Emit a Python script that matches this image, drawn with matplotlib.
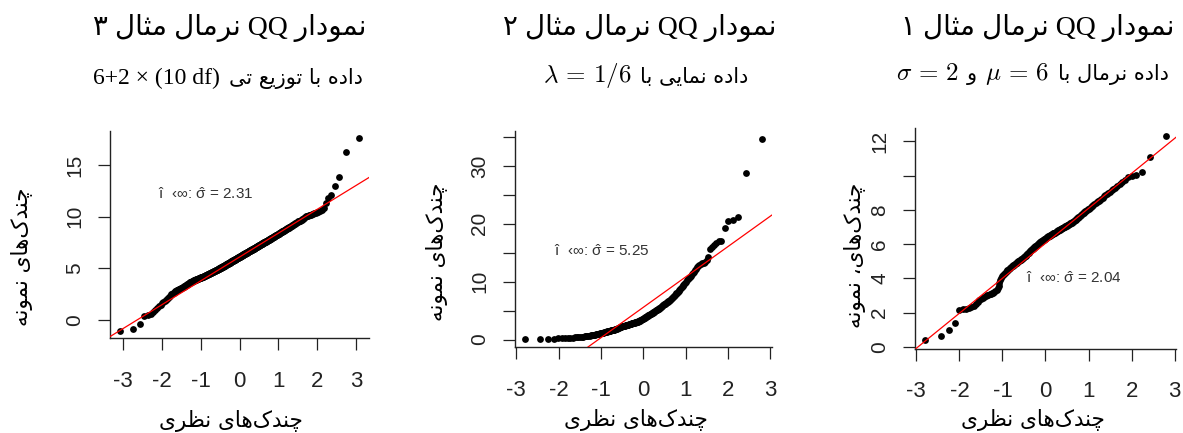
import statistics
import matplotlib
matplotlib.use('Agg')
import matplotlib.pyplot as plt
from matplotlib.offsetbox import TextArea, HPacker, AnnotationBbox

# sorted samples, one value per point (normal, exponential, t)
sample_norm = [
    0.39, 0.64, 0.99, 1.42, 2.15, 2.20, 2.24, 2.30, 2.36, 2.42,
    2.50, 2.62, 2.75, 2.82, 2.88, 2.93, 2.98, 3.02, 3.06, 3.09,
    3.10, 3.13, 3.17, 3.22, 3.28, 3.35, 3.45, 3.58, 3.72, 3.90,
    4.05, 4.15, 4.22, 4.28, 4.34, 4.39, 4.44, 4.48, 4.52, 4.56,
    4.60, 4.63, 4.67, 4.70, 4.73, 4.77, 4.80, 4.83, 4.87, 4.90,
    4.93, 4.96, 4.99, 5.01, 5.04, 5.07, 5.09, 5.12, 5.15, 5.17,
    5.20, 5.23, 5.27, 5.30, 5.33, 5.37, 5.40, 5.43, 5.47, 5.50,
    5.55, 5.58, 5.61, 5.64, 5.67, 5.70, 5.73, 5.77, 5.80, 5.83,
    5.86, 5.89, 5.91, 5.94, 5.97, 5.99, 6.02, 6.05, 6.07, 6.10,
    6.13, 6.15, 6.17, 6.20, 6.22, 6.24, 6.26, 6.29, 6.31, 6.33,
    6.35, 6.37, 6.39, 6.41, 6.43, 6.45, 6.47, 6.49, 6.51, 6.53,
    6.55, 6.57, 6.59, 6.61, 6.63, 6.64, 6.66, 6.68, 6.70, 6.72,
    6.74, 6.76, 6.78, 6.80, 6.82, 6.84, 6.87, 6.89, 6.91, 6.93,
    6.95, 6.97, 6.99, 7.01, 7.03, 7.04, 7.06, 7.08, 7.10, 7.12,
    7.14, 7.16, 7.19, 7.21, 7.24, 7.26, 7.28, 7.31, 7.33, 7.36,
    7.40, 7.43, 7.47, 7.50, 7.54, 7.58, 7.61, 7.65, 7.68, 7.72,
    7.76, 7.80, 7.84, 7.88, 7.92, 7.95, 7.99, 8.03, 8.07, 8.11,
    8.15, 8.20, 8.25, 8.30, 8.35, 8.40, 8.45, 8.50, 8.54, 8.59,
    8.65, 8.72, 8.79, 8.86, 8.93, 9.00, 9.07, 9.14, 9.21, 9.28,
    9.38, 9.50, 9.60, 9.75, 9.90, 9.97, 10.05, 10.20, 11.10, 12.30,
]

sample_exp = [
    0.04, 0.10, 0.13, 0.16, 0.19, 0.22, 0.25, 0.28, 0.30, 0.33,
    0.36, 0.39, 0.41, 0.44, 0.47, 0.50, 0.53, 0.56, 0.60, 0.63,
    0.66, 0.70, 0.73, 0.76, 0.80, 0.84, 0.88, 0.92, 0.96, 1.00,
    1.04, 1.08, 1.12, 1.16, 1.20, 1.24, 1.28, 1.32, 1.36, 1.40,
    1.43, 1.46, 1.50, 1.54, 1.57, 1.60, 1.63, 1.66, 1.69, 1.72,
    1.76, 1.80, 1.85, 1.90, 1.95, 2.00, 2.05, 2.10, 2.15, 2.20,
    2.23, 2.26, 2.29, 2.32, 2.35, 2.38, 2.41, 2.44, 2.47, 2.50,
    2.53, 2.56, 2.59, 2.62, 2.65, 2.68, 2.71, 2.74, 2.77, 2.80,
    2.83, 2.86, 2.89, 2.92, 2.95, 2.98, 3.01, 3.04, 3.07, 3.10,
    3.14, 3.18, 3.23, 3.28, 3.33, 3.38, 3.43, 3.48, 3.54, 3.60,
    3.65, 3.70, 3.76, 3.82, 3.88, 3.94, 4.00, 4.06, 4.12, 4.18,
    4.24, 4.30, 4.36, 4.42, 4.48, 4.54, 4.60, 4.66, 4.72, 4.78,
    4.84, 4.90, 4.96, 5.02, 5.08, 5.14, 5.21, 5.28, 5.35, 5.42,
    5.50, 5.58, 5.66, 5.74, 5.82, 5.90, 5.98, 6.06, 6.14, 6.22,
    6.30, 6.38, 6.46, 6.55, 6.64, 6.73, 6.82, 6.91, 7.00, 7.10,
    7.20, 7.32, 7.44, 7.56, 7.70, 7.84, 7.98, 8.12, 8.26, 8.40,
    8.55, 8.70, 8.85, 9.00, 9.20, 9.40, 9.60, 9.80, 10.00, 10.20,
    10.40, 10.60, 10.80, 11.00, 11.25, 11.50, 11.75, 12.00, 12.25, 12.50,
    12.70, 12.85, 13.00, 13.15, 13.30, 13.45, 13.70, 14.20, 15.70, 16.00,
    16.40, 16.70, 17.00, 17.10, 19.20, 20.40, 20.60, 21.10, 28.70, 34.70,
]

sample_t = [
    -1.05, -0.90, -0.40, 0.35, 0.45, 0.55, 0.75, 0.95, 1.12, 1.30,
    1.45, 1.58, 1.70, 1.82, 1.94, 2.05, 2.15, 2.25, 2.35, 2.45,
    2.52, 2.58, 2.64, 2.70, 2.75, 2.80, 2.84, 2.88, 2.92, 2.96,
    2.99, 3.02, 3.06, 3.09, 3.12, 3.16, 3.19, 3.22, 3.26, 3.29,
    3.32, 3.35, 3.38, 3.41, 3.44, 3.47, 3.50, 3.53, 3.56, 3.59,
    3.62, 3.64, 3.66, 3.68, 3.70, 3.72, 3.74, 3.76, 3.78, 3.80,
    3.82, 3.83, 3.85, 3.86, 3.88, 3.89, 3.91, 3.92, 3.94, 3.95,
    3.97, 3.98, 4.00, 4.01, 4.02, 4.04, 4.05, 4.06, 4.07, 4.08,
    4.10, 4.11, 4.12, 4.14, 4.15, 4.17, 4.18, 4.19, 4.21, 4.22,
    4.23, 4.25, 4.26, 4.27, 4.29, 4.30, 4.31, 4.33, 4.34, 4.35,
    4.36, 4.38, 4.39, 4.40, 4.42, 4.43, 4.44, 4.46, 4.47, 4.48,
    4.49, 4.50, 4.52, 4.53, 4.54, 4.55, 4.57, 4.58, 4.59, 4.60,
    4.61, 4.62, 4.64, 4.65, 4.66, 4.67, 4.69, 4.70, 4.71, 4.72,
    4.73, 4.74, 4.76, 4.77, 4.78, 4.79, 4.81, 4.82, 4.83, 4.84,
    4.85, 4.86, 4.87, 4.88, 4.89, 4.91, 4.92, 4.93, 4.94, 4.95,
    4.96, 4.97, 4.99, 5.00, 5.01, 5.02, 5.04, 5.05, 5.06, 5.07,
    5.08, 5.09, 5.11, 5.12, 5.13, 5.14, 5.16, 5.17, 5.18, 5.19,
    5.20, 5.21, 5.23, 5.24, 5.25, 5.26, 5.28, 5.29, 5.30, 5.31,
    5.32, 5.33, 5.35, 5.36, 5.37, 5.38, 5.40, 5.41, 5.42, 5.43,
    5.44, 5.45, 5.46, 5.47, 5.48, 5.50, 5.51, 5.52, 5.53, 5.54,
    5.55, 5.56, 5.58, 5.59, 5.60, 5.61, 5.63, 5.64, 5.65, 5.66,
    5.67, 5.68, 5.69, 5.70, 5.71, 5.73, 5.74, 5.75, 5.76, 5.77,
    5.78, 5.79, 5.80, 5.81, 5.82, 5.84, 5.85, 5.86, 5.87, 5.88,
    5.89, 5.90, 5.91, 5.92, 5.93, 5.95, 5.96, 5.97, 5.98, 5.99,
    6.00, 6.01, 6.02, 6.03, 6.04, 6.06, 6.07, 6.08, 6.09, 6.10,
    6.11, 6.12, 6.13, 6.14, 6.15, 6.17, 6.18, 6.19, 6.20, 6.21,
    6.22, 6.23, 6.24, 6.25, 6.26, 6.28, 6.29, 6.30, 6.31, 6.32,
    6.33, 6.34, 6.35, 6.36, 6.37, 6.39, 6.40, 6.41, 6.42, 6.43,
    6.44, 6.45, 6.46, 6.47, 6.48, 6.50, 6.51, 6.52, 6.53, 6.54,
    6.55, 6.56, 6.57, 6.58, 6.59, 6.61, 6.62, 6.63, 6.64, 6.65,
    6.66, 6.67, 6.69, 6.70, 6.71, 6.72, 6.74, 6.75, 6.76, 6.77,
    6.78, 6.79, 6.80, 6.81, 6.82, 6.84, 6.85, 6.86, 6.87, 6.88,
    6.89, 6.90, 6.92, 6.93, 6.94, 6.95, 6.97, 6.98, 6.99, 7.00,
    7.01, 7.02, 7.04, 7.05, 7.06, 7.07, 7.09, 7.10, 7.11, 7.12,
    7.13, 7.15, 7.16, 7.17, 7.19, 7.20, 7.21, 7.23, 7.24, 7.25,
    7.26, 7.28, 7.29, 7.30, 7.32, 7.33, 7.34, 7.36, 7.37, 7.38,
    7.39, 7.41, 7.42, 7.43, 7.45, 7.46, 7.47, 7.49, 7.50, 7.51,
    7.52, 7.54, 7.55, 7.57, 7.58, 7.59, 7.61, 7.62, 7.64, 7.65,
    7.66, 7.68, 7.69, 7.71, 7.72, 7.74, 7.75, 7.77, 7.78, 7.80,
    7.81, 7.83, 7.84, 7.86, 7.87, 7.89, 7.90, 7.92, 7.93, 7.95,
    7.96, 7.98, 8.00, 8.01, 8.03, 8.05, 8.07, 8.08, 8.10, 8.12,
    8.13, 8.15, 8.17, 8.19, 8.21, 8.22, 8.24, 8.26, 8.28, 8.30,
    8.31, 8.33, 8.35, 8.37, 8.39, 8.41, 8.43, 8.46, 8.48, 8.50,
    8.51, 8.53, 8.56, 8.58, 8.60, 8.62, 8.65, 8.67, 8.70, 8.72,
    8.73, 8.76, 8.78, 8.80, 8.83, 8.85, 8.88, 8.90, 8.93, 8.95,
    8.96, 8.99, 9.02, 9.05, 9.09, 9.12, 9.15, 9.18, 9.22, 9.25,
    9.26, 9.30, 9.34, 9.38, 9.42, 9.45, 9.49, 9.53, 9.56, 9.60,
    9.61, 9.66, 9.71, 9.76, 9.81, 9.86, 9.91, 9.96, 10.01, 10.05,
    10.07, 10.11, 10.15, 10.19, 10.23, 10.27, 10.31, 10.35, 10.40, 10.45,
    10.50, 10.62, 10.80, 11.30, 11.85, 12.05, 13.00, 13.87, 16.30, 17.58,
]

# reference line: mean + sigma_hat * theoretical quantile
sample_mean = [6.05, 5.57, 6.08]
sigma_hat = [2.04, 5.25, 2.31]

xticks = [-3, -2, -1, 0, 1, 2, 3]
yticks_norm = [0, 2, 4, 6, 8, 10, 12]
ylabels_norm = ['0', '2', '4', '6', '8', '', '12']
yticks_exp = [0, 5, 10, 15, 20, 25, 30, 35]
ylabels_exp = ['0', '', '10', '', '20', '', '30', '']
yticks_t = [0, 5, 10, 15]
ylabels_t = ['0', '5', '10', '15']


# minimal arabic shaping: matplotlib has no bidi / joining support
FORMS = {
    'ا': ('\uFE8D', '\uFE8E', None, None),
    'ب': ('\uFE8F', '\uFE90', '\uFE91', '\uFE92'),
    'ت': ('\uFE95', '\uFE96', '\uFE97', '\uFE98'),
    'ث': ('\uFE99', '\uFE9A', '\uFE9B', '\uFE9C'),
    'چ': ('\uFB7A', '\uFB7B', '\uFB7C', '\uFB7D'),
    'د': ('\uFEA9', '\uFEAA', None, None),
    'ر': ('\uFEAD', '\uFEAE', None, None),
    'ز': ('\uFEAF', '\uFEB0', None, None),
    'ظ': ('\uFEC5', '\uFEC6', '\uFEC7', '\uFEC8'),
    'ع': ('\uFEC9', '\uFECA', '\uFECB', '\uFECC'),
    'ک': ('\uFB8E', '\uFB8F', '\uFB90', '\uFB91'),
    'ل': ('\uFEDD', '\uFEDE', '\uFEDF', '\uFEE0'),
    'م': ('\uFEE1', '\uFEE2', '\uFEE3', '\uFEE4'),
    'ن': ('\uFEE5', '\uFEE6', '\uFEE7', '\uFEE8'),
    'ه': ('\uFEE9', '\uFEEA', '\uFEEB', '\uFEEC'),
    'و': ('\uFEED', '\uFEEE', None, None),
    'ی': ('\uFBFC', '\uFBFD', '\uFBFE', '\uFBFF'),
}


def fa(text):
    '''joins the letters and returns them in left-to-right drawing order'''
    out = []
    for k, ch in enumerate(text):
        if ch not in FORMS:
            out.append(ch)
            continue
        prev = text[k - 1] if k > 0 else ''
        nxt = text[k + 1] if k + 1 < len(text) else ''
        jp = prev in FORMS and FORMS[prev][2] is not None
        jn = nxt in FORMS and FORMS[ch][2] is not None
        iso, fin, ini, med = FORMS[ch]
        if jp and jn:
            out.append(med)
        elif jp:
            out.append(fin)
        elif jn:
            out.append(ini)
        else:
            out.append(iso)
    return ''.join(c for c in reversed(out) if c != '\u200c')


plt.rcParams['mathtext.fontset'] = 'custom'
plt.rcParams['mathtext.rm'] = 'Liberation Sans'
plt.rcParams['mathtext.it'] = 'Liberation Sans:italic'

W, H = 1183, 433
fig = plt.figure(figsize=(W / 100, H / 100), dpi=100)

serif = ['Liberation Serif', 'DejaVu Sans']
arab = ['DejaVu Sans']
sans = ['Liberation Sans', 'DejaVu Sans']

panels = [
    dict(sample=sample_t, mean=sample_mean[2], sigma=sigma_hat[2],
         box=(110, 130.7, 369, 338.3), yticks=yticks_t, ylabels=ylabels_t,
         note=(-2.1, 12.2), num='۳', ylab='چندک\u200cهای نمونه',
         title_xy=(230, 28), xlab_xy=(231, 421), ylab_xy=(22, 257)),
    dict(sample=sample_exp, mean=sample_mean[1], sigma=sigma_hat[1],
         box=(515, 130.7, 771.7, 347.3), yticks=yticks_exp, ylabels=ylabels_exp,
         note=(-2.1, 15.3), num='۲', ylab='چندک\u200cهای نمونه',
         title_xy=(640, 28), xlab_xy=(636, 420), ylab_xy=(437, 252)),
    dict(sample=sample_norm, mean=sample_mean[0], sigma=sigma_hat[0],
         box=(915, 128, 1176, 348.5), yticks=yticks_norm, ylabels=ylabels_norm,
         note=(-0.46, 4.0), num='۱', ylab='چندک\u200cهای، نمونه',
         title_xy=(1038, 28), xlab_xy=(1033, 420), ylab_xy=(855, 255)),
]

nd = statistics.NormalDist()

for p in panels:
    x0, y0, x1, y1 = p['box']
    ax = fig.add_axes([x0 / W, 1 - y1 / H, (x1 - x0) / W, (y1 - y0) / H])
    n = len(p['sample'])
    q = [nd.inv_cdf((i + 0.5) / n) for i in range(n)]
    ax.scatter(q, p['sample'], s=24, c='black', linewidths=0, zorder=3)
    ax.axline((0, p['mean']), slope=p['sigma'], color='red', lw=0.9, zorder=4)
    ax.margins(0.04)

    for s in ['top', 'right']:
        ax.spines[s].set_visible(False)
    for s in ['left', 'bottom']:
        ax.spines[s].set_linewidth(1.0)
        ax.spines[s].set_color('#222222')

    ax.set_xticks(xticks)
    ax.set_xticklabels([str(t) for t in xticks])
    ax.set_yticks(p['yticks'])
    ax.set_yticklabels(p['ylabels'])
    ax.tick_params(direction='out', length=8.5, width=0.9, color='#222222',
                   labelcolor='#222222')
    ax.tick_params(axis='x', labelsize=16, pad=15)
    ax.tick_params(axis='y', labelsize=15, pad=10, labelrotation=90)
    for lab in ax.get_xticklabels() + ax.get_yticklabels():
        lab.set_family(sans)
    for lab in ax.get_yticklabels():
        lab.set_va('center')

    ax.text(p['note'][0], p['note'][1],
            'î  ‹∞: $\\hat{\\mathrm{\\sigma}}$ = %.2f' % p['sigma'],
            fontsize=11, color='#333333', family='Liberation Sans',
            va='center', ha='left', zorder=5)

    tx, ty = p['title_xy']
    fig.text(tx / W, 1 - ty / H, fa('نرمال مثال ' + p['num']) + ' QQ ' + fa('نمودار'),
             ha='center', va='center', fontsize=20, family=serif)

    lx, ly = p['xlab_xy']
    fig.text(lx / W, 1 - ly / H, fa('چندک\u200cهای نظری'), ha='center', va='center',
             fontsize=15.5, family=arab)
    lx, ly = p['ylab_xy']
    fig.text(lx / W, 1 - ly / H, fa(p['ylab']), ha='center', va='center',
             rotation=90, fontsize=15.5, family=arab)


def rich_line(parts, xy):
    boxes = [TextArea(t, textprops=tp) for t, tp in parts]
    pack = HPacker(children=boxes, align='baseline', pad=0, sep=6)
    ab = AnnotationBbox(pack, (xy[0], H - xy[1]), xycoords='figure pixels',
                        frameon=False, box_alignment=(0.5, 0.5))
    fig.add_artist(ab)


math_p = dict(fontsize=18, math_fontfamily='cm', color='black')
ar_p = dict(fontsize=15, family=arab, color='black')

# subtitles
rich_line([('6+2 × (10 df)', dict(fontsize=17, family=serif, color='black')),
           (fa('داده با توزیع تی'), ar_p)], (228, 78))
rich_line([('$\\lambda\\,=\\,1/6$', math_p), (fa('داده نمایی با'), ar_p)], (646, 76))
rich_line([('$\\sigma\\,=\\,2$', math_p), (fa('و'), ar_p), ('$\\mu\\,=\\,6$', math_p),
           (fa('داده نرمال با'), ar_p)], (1032, 74))

fig.savefig('out.png', dpi=100)
